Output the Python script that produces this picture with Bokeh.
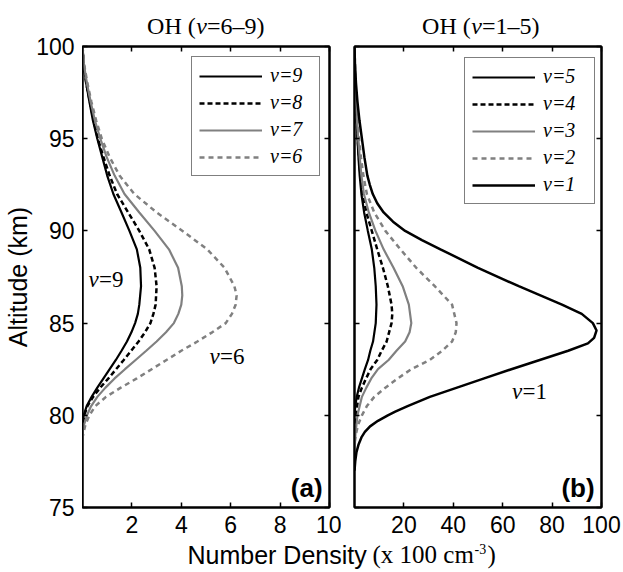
from bokeh.plotting import figure
from bokeh.models import Range1d, LinearAxis, FixedTicker, Label, Legend, LegendItem
from bokeh.layouts import row, column
from bokeh.embed import file_html
from bokeh.resources import INLINE

SANS = "Liberation Sans"
SERIF = "Liberation Serif"

# ---------------- data: panel (a) OH v=6-9 (number density, x 100 cm^-3) ----------------
alt_v9 = [100, 99, 98, 97, 96, 95, 94, 93, 92, 91, 90, 89, 88, 87, 86, 85.5, 85, 84.5, 84, 83.5, 83, 82.5, 82, 81.5, 81, 80.5, 80, 79.6]
n_v9 = [0, 0.05, 0.15, 0.28, 0.42, 0.6, 0.8, 1.0, 1.25, 1.58, 1.9, 2.2, 2.34, 2.37, 2.3, 2.24, 2.13, 1.98, 1.8, 1.58, 1.35, 1.1, 0.85, 0.6, 0.37, 0.17, 0.05, 0]

alt_v8 = [100, 99, 98, 97, 96, 95, 94, 93, 92, 91, 90, 89, 88, 87, 86, 85.5, 85, 84.5, 84, 83.5, 83, 82.5, 82, 81.5, 81, 80.5, 80, 79.4]
n_v8 = [0, 0.05, 0.15, 0.3, 0.45, 0.62, 0.85, 1.1, 1.4, 1.85, 2.3, 2.7, 2.92, 3.0, 2.96, 2.87, 2.75, 2.53, 2.27, 1.97, 1.67, 1.36, 1.05, 0.72, 0.43, 0.2, 0.07, 0]

alt_v7 = [100, 99, 98, 97, 96, 95, 94, 93, 92, 91, 90, 89, 88, 87, 86.5, 86, 85.5, 85, 84.5, 84, 83.5, 83, 82.5, 82, 81.5, 81, 80.5, 80, 79.2]
n_v7 = [0, 0.06, 0.18, 0.33, 0.5, 0.72, 0.98, 1.3, 1.7, 2.3, 2.92, 3.5, 3.87, 4.02, 4.04, 4.0, 3.88, 3.7, 3.38, 3.0, 2.58, 2.15, 1.72, 1.3, 0.93, 0.6, 0.35, 0.18, 0]

alt_v6 = [100, 99, 98, 97, 96, 95, 94, 93, 92, 91, 90, 89, 88, 87, 86.5, 86, 85.5, 85, 84.5, 84, 83.5, 83, 82.5, 82, 81.5, 81, 80.5, 80, 79.5, 78.8]
n_v6 = [0, 0.07, 0.2, 0.36, 0.55, 0.78, 1.1, 1.5, 2.1, 3.0, 4.05, 5.05, 5.75, 6.15, 6.24, 6.2, 6.05, 5.8, 5.25, 4.65, 4.0, 3.4, 2.8, 2.2, 1.55, 0.95, 0.52, 0.28, 0.12, 0]

# ---------------- data: panel (b) OH v=1-5 ----------------
alt_v5 = [100, 98, 96, 95, 94, 93, 92, 91, 90, 89, 88, 87, 86, 85, 84, 83.5, 83, 82.5, 82, 81.5, 81, 80.5, 80]
n_v5 = [0, 0.2, 0.8, 1.2, 1.6, 2.1, 2.8, 3.9, 5.4, 7.0, 8.0, 8.6, 8.9, 8.6, 7.5, 6.4, 5.5, 4.2, 3.0, 1.8, 0.9, 0.3, 0]

alt_v4 = [100, 98, 96, 95, 94, 93, 92, 91, 90, 89, 88, 87, 86, 85.5, 85, 84, 83.5, 83, 82.5, 82, 81.5, 81, 80, 79]
n_v4 = [0, 0.25, 0.9, 1.3, 1.8, 2.4, 3.3, 4.8, 7.0, 9.2, 11.5, 13.5, 15.0, 15.3, 15.0, 13.0, 11.0, 9.2, 6.5, 4.7, 3.0, 1.6, 0.5, 0]

alt_v3 = [100, 98, 96, 95, 94, 93, 92, 91, 90, 89, 88, 87, 86, 85, 84.5, 84, 83.5, 83, 82.5, 82, 81.5, 81, 80, 79, 78]
n_v3 = [0, 0.3, 1.0, 1.5, 2.1, 2.8, 3.8, 5.8, 8.5, 11.8, 15.8, 19.5, 22.0, 23.0, 22.3, 20.5, 17.0, 13.8, 9.5, 6.8, 4.8, 3.0, 1.2, 0.4, 0]

alt_v2 = [100, 98, 96, 95, 94, 93, 92, 91, 90, 89, 88, 87, 86, 85, 84.5, 84, 83.5, 83, 82.5, 82, 81.5, 81, 80.5, 80, 79.5, 79, 78.5]
n_v2 = [0, 0.4, 1.2, 1.8, 2.6, 3.6, 5.0, 8.0, 12.5, 18.6, 25.0, 32.5, 39.5, 41.3, 41.0, 39.5, 35.5, 30.5, 23.0, 17.5, 12.5, 8.0, 5.0, 3.0, 1.5, 0.6, 0]

alt_v1 = [100, 99, 98, 97, 96, 95, 94, 93, 92.5, 92, 91.5, 91, 90.5, 90, 89.5, 89, 88, 87, 86, 85.5, 85, 84.6,
          84.2, 83.9, 83.5, 83, 82.5, 82, 81.5, 81, 80.5, 80.2, 80, 79.7, 79.4, 79.1, 78.8, 78.4, 78, 77.5, 77]
n_v1 = [0, 0.2, 0.6, 1.2, 2.0, 3.0, 4.0, 5.2, 6.2, 7.4, 9.2, 11.8, 15.6, 20.5, 27.3, 34.8, 50.0, 66.5, 84.0, 92.0, 96.5, 98.0,
        97.0, 94.5, 86.5, 75.0, 63.5, 52.5, 41.5, 30.5, 21.5, 16.5, 13.5, 9.5, 6.3, 4.2, 2.8, 1.6, 0.8, 0.3, 0]

xticks_a = [2, 4, 6, 8, 10]
xticks_b = [20, 40, 60, 80, 100]
yticks = [75, 80, 85, 90, 95, 100]

BLACK = "#000000"
GRAY = "#808080"

# layout constants (pixels)
FW, FH = 247, 461
Y_W = 82                    # strip holding the y tick labels and y-axis title
A_RIGHT = 12
B_LEFT, B_RIGHT = 13, 20
WA = FW + A_RIGHT
WB = B_LEFT + FW + B_RIGHT
TOP_H, TOP_B = 40, 6
BOT_B = 34
XL_H = 29


def add_axis(p, side, ticks, show_labels):
    ax = LinearAxis(ticker=FixedTicker(ticks=ticks))
    ax.major_tick_in = 5
    ax.major_tick_out = 0
    ax.minor_tick_in = 0
    ax.minor_tick_out = 0
    ax.axis_line_color = "black"
    ax.axis_line_width = 2
    ax.major_tick_line_width = 1.5
    ax.major_tick_line_color = "black"
    ax.major_label_text_font = SANS
    ax.major_label_text_color = "black"
    if show_labels:
        ax.major_label_text_font_size = "23px"
        ax.major_label_standoff = 8
    else:
        ax.major_label_overrides = {t: "" for t in ticks}
        ax.major_label_text_font_size = "1px"
        ax.major_label_standoff = 0
    p.add_layout(ax, side)
    return ax


def make_panel(xmax, xticks, min_left, min_right):
    p = figure(frame_width=FW, frame_height=FH, title=None,
               x_range=Range1d(0, xmax), y_range=Range1d(75, 100),
               x_axis_type=None, y_axis_type=None,
               output_backend="svg", toolbar_location=None,
               min_border_left=min_left, min_border_right=min_right,
               min_border_top=TOP_B, min_border_bottom=BOT_B)
    p.outline_line_color = "black"
    p.outline_line_width = 2
    p.background_fill_color = "white"
    p.border_fill_color = "white"
    add_axis(p, "below", xticks, True)
    add_axis(p, "above", xticks, False)
    add_axis(p, "left", yticks, False)
    add_axis(p, "right", yticks, False)
    return p


def text_strip(width, height):
    s = figure(width=width, height=height, title=None,
               x_range=Range1d(0, width), y_range=Range1d(0, height),
               x_axis_type=None, y_axis_type=None, output_backend="svg", toolbar_location=None,
               min_border_left=0, min_border_right=0, min_border_top=0, min_border_bottom=0)
    s.outline_line_color = None
    s.background_fill_color = "white"
    s.border_fill_color = "white"
    return s


def add_title(s, xc, yb, pre, post):
    # "OH (" + italic v + "=a–b)"
    s.add_layout(Label(x=xc - 9.8, y=yb, text=pre, text_align="right", text_baseline="alphabetic",
                       text_font=SERIF, text_font_size="24px", text_color="black"))
    s.add_layout(Label(x=xc - 9.3, y=yb, text="v", text_align="left", text_baseline="alphabetic",
                       text_font=SERIF, text_font_style="italic", text_font_size="24px", text_color="black"))
    s.add_layout(Label(x=xc + 1.4, y=yb, text=post, text_align="left", text_baseline="alphabetic",
                       text_font=SERIF, text_font_size="24px", text_color="black"))


def add_vlabel(p, x, y, rest):
    p.add_layout(Label(x=x, y=y, text="v", text_align="left", text_baseline="alphabetic",
                       text_font=SERIF, text_font_style="italic", text_font_size="23px", text_color="black"))
    p.add_layout(Label(x=x, y=y, text=rest, x_offset=10.5, text_align="left", text_baseline="alphabetic",
                       text_font=SERIF, text_font_size="23px", text_color="black"))


def style_legend(leg, loc, label_w):
    leg.location = loc
    leg.margin = 0
    leg.padding = 7
    leg.spacing = 4
    leg.glyph_width = 63
    leg.glyph_height = 20
    leg.label_height = 20
    leg.label_width = label_w
    leg.label_standoff = 8
    leg.label_text_font = SERIF
    leg.label_text_font_style = "italic"
    leg.label_text_font_size = "20px"
    leg.label_text_color = "black"
    leg.border_line_color = "black"
    leg.border_line_width = 1.5
    leg.background_fill_color = "white"
    leg.background_fill_alpha = 1


# ---------------- y-axis strip (tick labels + title), shared by the row ----------------
py = figure(frame_width=1, frame_height=FH, title=None,
            x_range=Range1d(0, 1), y_range=Range1d(75, 100),
            x_axis_type=None, y_axis_type=None, output_backend="svg", toolbar_location=None,
            min_border_left=Y_W - 1, min_border_right=0, min_border_top=TOP_H + TOP_B, min_border_bottom=BOT_B)
py.outline_line_color = None
py.background_fill_color = "white"
py.border_fill_color = "white"
yax = LinearAxis(ticker=FixedTicker(ticks=yticks))
yax.axis_line_color = None
yax.major_tick_line_color = None
yax.major_tick_in = 0
yax.major_tick_out = 0
yax.minor_tick_in = 0
yax.minor_tick_out = 0
yax.major_label_text_font = SANS
yax.major_label_text_font_size = "23px"
yax.major_label_text_color = "black"
yax.major_label_standoff = 7
yax.axis_label = "Altitude (km)"
yax.axis_label_text_font = SANS
yax.axis_label_text_font_size = "25px"
yax.axis_label_text_font_style = "normal"
yax.axis_label_text_color = "black"
yax.axis_label_standoff = 1
py.add_layout(yax, "left")

# ---------------- panel (a) ----------------
pa = make_panel(10, xticks_a, 0, A_RIGHT)
r9 = pa.line(n_v9, alt_v9, line_color=BLACK, line_width=2.2)
r8 = pa.line(n_v8, alt_v8, line_color=BLACK, line_width=2.5, line_dash="5 3")
r7 = pa.line(n_v7, alt_v7, line_color=GRAY, line_width=2.2)
r6 = pa.line(n_v6, alt_v6, line_color=GRAY, line_width=2.5, line_dash="5 4")
leg_a = Legend(items=[LegendItem(label="v=9", renderers=[r9]),
                      LegendItem(label="v=8", renderers=[r8]),
                      LegendItem(label="v=7", renderers=[r7]),
                      LegendItem(label="v=6", renderers=[r6])])
style_legend(leg_a, (109, 331), 42)
pa.add_layout(leg_a)
add_vlabel(pa, 0.24, 87.37, "=9")
add_vlabel(pa, 5.14, 83.2, "=6")
pa.add_layout(Label(x=9.72, y=76.07, text="(a)", text_align="right", text_baseline="alphabetic",
                    text_font=SANS, text_font_style="bold", text_font_size="26px", text_color="black"))

# ---------------- panel (b) ----------------
pb = make_panel(100, xticks_b, B_LEFT, B_RIGHT)
q5 = pb.line(n_v5, alt_v5, line_color=BLACK, line_width=2.2)
q4 = pb.line(n_v4, alt_v4, line_color=BLACK, line_width=2.5, line_dash="5 3")
q3 = pb.line(n_v3, alt_v3, line_color=GRAY, line_width=2.2)
q2 = pb.line(n_v2, alt_v2, line_color=GRAY, line_width=2.5, line_dash="5 4")
q1 = pb.line(n_v1, alt_v1, line_color=BLACK, line_width=2.5)
leg_b = Legend(items=[LegendItem(label="v=5", renderers=[q5]),
                      LegendItem(label="v=4", renderers=[q4]),
                      LegendItem(label="v=3", renderers=[q3]),
                      LegendItem(label="v=2", renderers=[q2]),
                      LegendItem(label="v=1", renderers=[q1])])
style_legend(leg_b, (110, 303), 44)
pb.add_layout(leg_b)
add_vlabel(pb, 63.8, 81.3, "=1")
pb.add_layout(Label(x=97.2, y=76.07, text="(b)", text_align="right", text_baseline="alphabetic",
                    text_font=SANS, text_font_style="bold", text_font_size="26px", text_color="black"))

# ---------------- panel titles (strips above the panels) ----------------
ta = text_strip(WA, TOP_H)
add_title(ta, 205 - Y_W, 15, "OH (", "=6\u20139)")
tb = text_strip(WB, TOP_H)
add_title(tb, 480 - Y_W - WA, 15, "OH (", "=1\u20135)")

# ---------------- shared x-axis label ----------------
pc = text_strip(Y_W + WA + WB, XL_H)
pc.add_layout(Label(x=187, y=16, text="Number Density", text_align="left", text_baseline="alphabetic",
                    text_font=SANS, text_font_size="25px", text_color="black"))
pc.add_layout(Label(x=372, y=16, text="(x 100 cm", text_align="left", text_baseline="alphabetic",
                    text_font=SERIF, text_font_size="25px", text_color="black"))
pc.add_layout(Label(x=474, y=22, text="-3", text_align="left", text_baseline="alphabetic",
                    text_font=SERIF, text_font_size="14px", text_color="black"))
pc.add_layout(Label(x=487, y=16, text=")", text_align="left", text_baseline="alphabetic",
                    text_font=SERIF, text_font_size="25px", text_color="black"))

right_part = column(row(ta, tb, spacing=0), row(pa, pb, spacing=0), spacing=0)
layout = column(row(py, right_part, spacing=0), pc, spacing=0)
open("out.html", "w").write(file_html(layout, INLINE))
